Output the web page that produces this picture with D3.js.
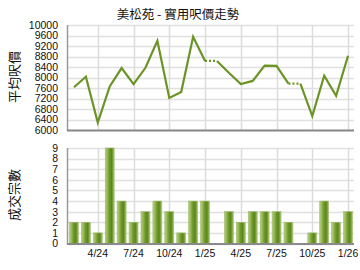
<!DOCTYPE html>
<html><head><meta charset="utf-8">
<script src="https://cdn.jsdelivr.net/npm/d3@7"></script>
<style>
html,body{margin:0;padding:0;background:#fff;}
svg{display:block;}
text{font-family:"Liberation Sans",Arial,sans-serif;}
.cjk{font-family:"Noto Sans CJK TC","Noto Sans CJK SC",sans-serif;}
</style></head>
<body>
<svg id="c" width="360" height="270"></svg>
<script>
const months = ["2/24","3/24","4/24","5/24","6/24","7/24","8/24","9/24","10/24","11/24","12/24","1/25",
                "2/25","3/25","4/25","5/25","6/25","7/25","8/25","9/25","10/25","11/25","12/25","1/26"];
const prices = [7630,8030,6280,7660,8360,7750,8370,9400,7220,7450,9550,8630,
                null,8180,7750,7870,8450,8440,7770,null,6530,8070,7300,8830];
const counts = [2,2,1,9,4,2,3,4,3,1,4,4,0,3,2,3,3,3,2,0,1,4,2,3];
const priceTicks = [6000,6400,6800,7200,7600,8000,8400,8800,9200,9600,10000];
const countTicks = [0,1,2,3,4,5,6,7,8,9];
const xTickLabels = ["4/24","7/24","10/24","1/25","4/25","7/25","10/25","1/26"];
const title = "美松苑 - 實用呎價走勢";
const yTitleTop = "平均呎價";
const yTitleBottom = "成交宗數";

const svg = d3.select("#c");
const L = 68, R = 354;
const x = d3.scaleBand().domain(months).range([L, R]).paddingInner(0.25).paddingOuter(0.125);
const cx = m => x(m) + x.bandwidth()/2;
const yP = d3.scaleLinear().domain([6000,10000]).range([130,25]);
const yC = d3.scaleLinear().domain([0,9]).range([243.5,148]);

// gradient for bars
const defs = svg.append("defs");
const g = defs.append("linearGradient").attr("id","bg").attr("x1","0").attr("x2","1").attr("y1","0").attr("y2","0");
[[0,"#b7cf85"],[0.2,"#9cbc5c"],[0.45,"#6f9a2c"],[0.7,"#5a861c"],[0.88,"#83a843"],[1,"#b0c97a"]]
  .forEach(([o,c])=>g.append("stop").attr("offset",o).attr("stop-color",c));

// title
svg.append("text").attr("class","cjk").attr("x",178).attr("y",19).attr("text-anchor","middle")
  .attr("font-size",12.5).attr("fill","#111").text(title);

function grid(yScale, ticks, top, bottom){
  const gg = svg.append("g");
  gg.selectAll("line.h").data(ticks).join("line")
    .attr("x1",L).attr("x2",R).attr("y1",d=>Math.round(yScale(d))+0.5).attr("y2",d=>Math.round(yScale(d))+0.5)
    .attr("stroke","#e0e0e0").attr("stroke-width",1.5);
  gg.selectAll("line.v").data(xTickLabels).join("line")
    .attr("x1",d=>Math.round(cx(d))+0.5).attr("x2",d=>Math.round(cx(d))+0.5).attr("y1",top).attr("y2",bottom)
    .attr("stroke","#dcdcdc").attr("stroke-width",1.5);
}
grid(yP, priceTicks, 25, 130);
grid(yC, countTicks, 148, 243.5);

// y axes (labels)
const axP = svg.append("g").attr("transform","translate(58,0)")
  .call(d3.axisLeft(yP).tickValues(priceTicks).tickSize(0).tickPadding(0).tickFormat(d3.format("d")));
const axC = svg.append("g").attr("transform","translate(58,0)")
  .call(d3.axisLeft(yC).tickValues(countTicks).tickSize(0).tickPadding(0).tickFormat(d3.format("d")));
[axP,axC].forEach(a=>{a.select(".domain").remove(); a.selectAll("text").attr("font-size",10.5).attr("fill","#111").attr("font-family","Liberation Sans, Arial, sans-serif");});

// x axis labels on bottom chart
const axX = svg.append("g").attr("transform","translate(0,250)")
  .call(d3.axisBottom(x).tickValues(xTickLabels).tickSize(0).tickPadding(0));
axX.select(".domain").remove();
axX.selectAll("text").attr("font-size",10.5).attr("fill","#111").attr("font-family","Liberation Sans, Arial, sans-serif");

// bars
svg.append("g").selectAll("rect").data(months.map((m,i)=>({m,v:counts[i]})).filter(d=>d.v>0)).join("rect")
  .attr("x",d=>x(d.m)).attr("width",x.bandwidth())
  .attr("y",d=>yC(d.v)).attr("height",d=>yC(0)-yC(d.v))
  .attr("fill","url(#bg)").attr("stroke","#9cb86a").attr("stroke-width",0.6);

// line: fill missing months with previous value; segment into a missing month is dotted
const filled = [];
prices.forEach((v,i)=>filled.push(v==null ? filled[i-1] : v));
const pts = months.map((m,i)=>[cx(m), yP(filled[i])]);
const line = d3.line();
let run = [pts[0]];
const solidRuns = [], dotted = [];
for(let i=1;i<pts.length;i++){
  if(prices[i]==null){
    if(run.length>1) solidRuns.push(run);
    dotted.push([pts[i-1],pts[i]]);
    run=[pts[i]];
  } else run.push(pts[i]);
}
if(run.length>1) solidRuns.push(run);
const lg = svg.append("g");
lg.selectAll("path.s").data(solidRuns).join("path").attr("d",line)
  .attr("fill","none").attr("stroke","#6b9426").attr("stroke-width",2.2).attr("stroke-linejoin","miter");
lg.selectAll("path.d").data(dotted).join("path").attr("d",line)
  .attr("fill","none").attr("stroke","#6b9426").attr("stroke-width",2.2).attr("stroke-dasharray","2,2");

// frame lines (left and bottom)
function frame(top,bottom){
  svg.append("line").attr("x1",L-0.5).attr("x2",L-0.5).attr("y1",top).attr("y2",bottom+1).attr("stroke","#9a9a9a").attr("stroke-width",1.5);
  svg.append("line").attr("x1",L-1).attr("x2",R).attr("y1",bottom+0.5).attr("y2",bottom+0.5).attr("stroke","#8a8a8a").attr("stroke-width",2);
}
frame(25,130);
frame(148,243.5);

// y titles
svg.append("text").attr("class","cjk").attr("transform","translate(19,77) rotate(-90)").attr("text-anchor","middle")
  .attr("font-size",13).attr("fill","#111").text(yTitleTop);
svg.append("text").attr("class","cjk").attr("transform","translate(19,195) rotate(-90)").attr("text-anchor","middle")
  .attr("font-size",13).attr("fill","#111").text(yTitleBottom);
</script>
</body></html>
